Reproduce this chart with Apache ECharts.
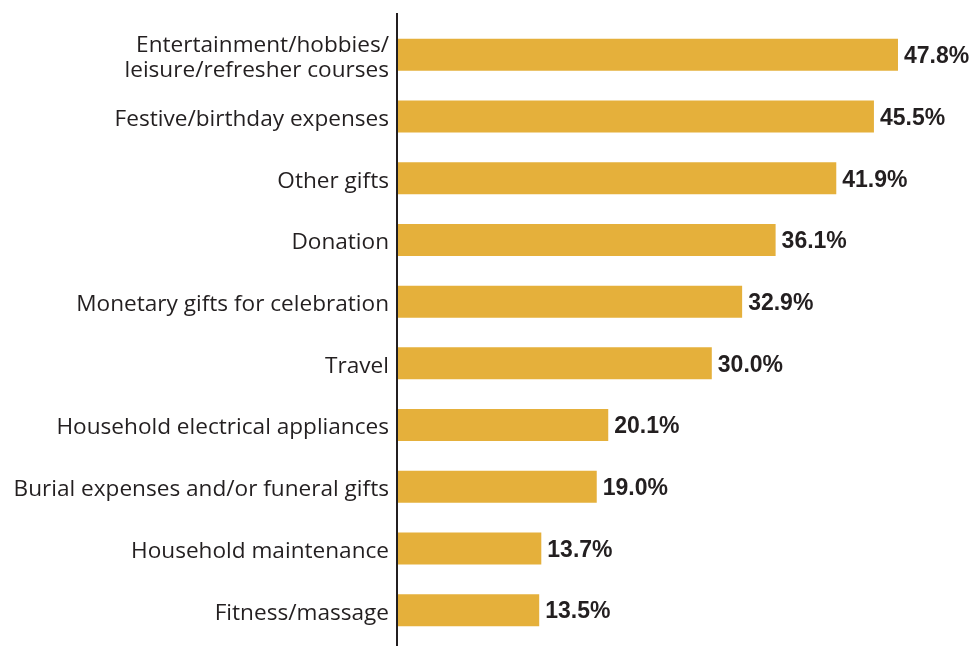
<!DOCTYPE html>
<html>
<head>
<meta charset="utf-8">
<script src="https://cdn.jsdelivr.net/npm/echarts@6/dist/echarts.min.js"></script>
<style>
  html, body { margin: 0; padding: 0; background: #ffffff; }
  #chart { width: 971px; height: 646px; }
</style>
</head>
<body>
<div id="chart"></div>
<script>
// Spending categories, listed top to bottom
const categories = [
  'Entertainment/hobbies/\nleisure/refresher courses',
  'Festive/birthday expenses',
  'Other gifts',
  'Donation',
  'Monetary gifts for celebration',
  'Travel',
  'Household electrical appliances',
  'Burial expenses and/or funeral gifts',
  'Household maintenance',
  'Fitness/massage'
];

// Share of respondents, in percent
const shares = [47.8, 45.5, 41.9, 36.1, 32.9, 30.0, 20.1, 19.0, 13.7, 13.5];

const chart = echarts.init(document.getElementById('chart'));

chart.setOption({
  animation: false,
  grid: { left: 398, right: 50, top: 24, bottom: 5, containLabel: false },
  xAxis: {
    type: 'value',
    min: 0,
    max: 50,
    show: false
  },
  yAxis: {
    type: 'category',
    inverse: true,
    data: categories,
    axisLine: { show: false },
    axisTick: { show: false },
    axisLabel: {
      margin: 9,
      color: '#231f20',
      // each line goes through the same rich style so it sits a little lower
      formatter: v => v.split('\n').map(s => '{c|' + s + '}').join('\n'),
      rich: {
        c: {
          fontFamily: 'Open Sans',
          fontSize: 22.6,
          lineHeight: 25,
          padding: [6, 0, 0, 0],
          color: '#231f20'
        }
      }
    }
  },
  series: [{
    type: 'bar',
    data: shares,
    barWidth: 32,
    itemStyle: { color: '#e5b03b' },
    label: {
      show: true,
      position: 'right',
      distance: 6,
      offset: [0, 2],
      formatter: p => p.value.toFixed(1) + '%',
      fontFamily: 'Liberation Sans',
      fontWeight: 'bold',
      fontSize: 23,
      color: '#231f20'
    }
  }]
});

// Vertical baseline at zero, running the full height of the plot
const x0 = Math.round(chart.convertToPixel({ xAxisIndex: 0 }, 0)) - 1;
chart.setOption({
  graphic: [{
    type: 'line',
    shape: { x1: x0, y1: 13, x2: x0, y2: 646 },
    style: { stroke: '#231f20', lineWidth: 2 },
    z: 10
  }]
});
</script>
</body>
</html>
